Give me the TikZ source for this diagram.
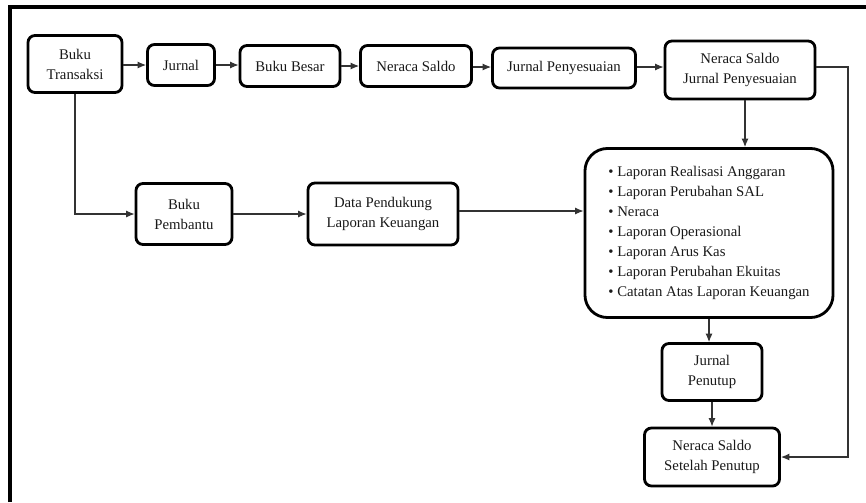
\documentclass[tikz,border=0pt]{standalone}
\usepackage{fontspec}
\setmainfont{Liberation Serif}
\usetikzlibrary{arrows.meta}

\begin{document}
\begin{tikzpicture}[x=0.025cm,y=-0.025cm,
 box/.style ={draw=black,line width=2pt,rounded corners=5pt,align=center,
   inner sep=0pt,font=\fontsize{10.5}{14.3}\selectfont,text=black!90},
 bigbox/.style ={box,rounded corners=16pt,align=left},
 flow/.style ={-{Latex[length=6pt,width=5pt]},draw=black!80,line width=0.8pt},
 frame/.style ={-,draw=black,line width=2.2pt}
 ]
\useasboundingbox (0,0) rectangle (866,502);
%draw frame
\draw[frame] (10,502) -- (10,7) -- (866,7);
%draw top row
\node[box,minimum width=2.35cm,minimum height=1.425cm] (bt) at (75,64) {Buku\\Transaksi};
\node[box,minimum width=1.675cm,minimum height=1.025cm] (jurnal) at (181,65) {Jurnal};
\node[box,minimum width=2.5cm,minimum height=1.025cm] (bb) at (290,66) {Buku Besar};
\node[box,minimum width=2.775cm,minimum height=1.025cm] (ns) at (416,66) {Neraca Saldo};
\node[box,minimum width=3.575cm,minimum height=1cm] (jp) at (564,68) {Jurnal Penyesuaian};
\node[box,minimum width=3.75cm,minimum height=1.45cm] (nsjp) at (740,70) {Neraca Saldo\\Jurnal Penyesuaian};
%draw middle row
\node[box,minimum width=2.4cm,minimum height=1.525cm] (bp) at (184,214) {Buku\\Pembantu};
\node[box,minimum width=3.75cm,minimum height=1.55cm] (dp) at (383,214) {Data Pendukung\\Laporan Keuangan};
\node[bigbox,minimum width=6.2cm,minimum height=4.225cm,inner xsep=11pt] (lk) at (709,233) {%
\textbullet\ Laporan Realisasi Anggaran\\
\textbullet\ Laporan Perubahan SAL\\
\textbullet\ Neraca\\
\textbullet\ Laporan Operasional\\
\textbullet\ Laporan Arus Kas\\
\textbullet\ Laporan Perubahan Ekuitas\\
\textbullet\ Catatan Atas Laporan Keuangan};
%draw closing
\node[box,minimum width=2.5cm,minimum height=1.425cm] (jpt) at (712,372) {Jurnal\\Penutup};
\node[box,minimum width=3.375cm,minimum height=1.45cm] (nssp) at (712,457) {Neraca Saldo\\Setelah Penutup};
\coordinate (fb) at (848,457);
%draw connectors
\draw[flow] (bt.east |- 0,65) -- (jurnal.west |- 0,65);
\draw[flow] (jurnal.east |- 0,65) -- (bb.west |- 0,65);
\draw[flow] (bb.east |- 0,66) -- (ns.west |- 0,66);
\draw[flow] (ns.east |- 0,67) -- (jp.west |- 0,67);
\draw[flow] (jp.east |- 0,67) -- (nsjp.west |- 0,67);
\draw[flow] (bt.south) |- (bp.west);
\draw[flow] (bp.east) -- (dp.west);
\draw[flow] (dp.east |- 0,211) -- (lk.west |- 0,211);
\draw[flow] (nsjp.south -| 745,0) -- (lk.north -| 745,0);
\draw[flow] (lk.south -| 709,0) -- (jpt.north -| 709,0);
\draw[flow] (jpt.south) -- (nssp.north);
\draw[flow] (nsjp.east |- 0,67) -| (fb) -- (nssp.east);
\end{tikzpicture}
\end{document}
